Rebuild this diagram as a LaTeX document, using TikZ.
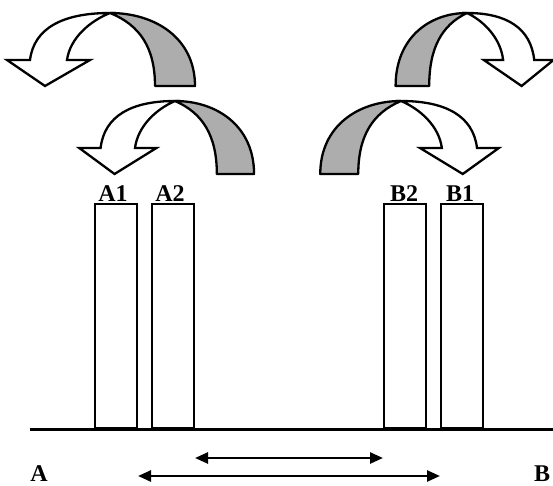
\documentclass[tikz,border=0pt]{standalone}
\usepackage{fontspec}
\setmainfont{Liberation Serif}
\usetikzlibrary{arrows.meta}

\tikzset{
  pics/hoparrow/.style={code={
    % shaded underside of the band
    \filldraw[fill=black!32, line width=2.3pt, line join=round]
      (0,0) .. controls (45,0) and (85,25) .. (85,73) -- (45,73)
      .. controls (45,35) and (30,12) .. (0,0) -- cycle;
    % white band with its head
    \filldraw[fill=white, line width=2.3pt, line join=miter]
      (0,0) .. controls (-47,0) and (-76,15) .. (-80,47) -- (-103,47)
      -- (-65,73) -- (-20,47) -- (-43,47)
      .. controls (-40,25) and (-20,8) .. (0,0) -- cycle;
  }}
}

\begin{document}
\begin{tikzpicture}[x=1pt, y=-1pt,
  bar/.style={draw, line width=2pt, minimum width=42pt, minimum height=224pt, inner sep=0pt, anchor=south},
  lbl/.style={font=\bfseries\fontsize{24}{24}\selectfont, anchor=base, inner sep=0pt},
  dimarrow/.style={{Triangle[length=13pt,width=11pt]}-{Triangle[length=13pt,width=11pt]}, line width=2.5pt}]

\useasboundingbox (0,0) rectangle (553,486);

% the four curved arrows
\pic at (110,13) {hoparrow};
\pic[xscale=0.93] at (175,101) {hoparrow};
\pic[xscale=-0.84] at (467,13) {hoparrow};
\pic[xscale=-0.95] at (401,101) {hoparrow};

% ground
\coordinate (g1) at (30,429);
\coordinate (g2) at (553,429);
\draw[line width=3pt] (g1) -- (g2);

% bars
\node[bar] (A1) at (116,429) {};
\node[bar] (A2) at (173,429) {};
\node[bar] (B2) at (405,429) {};
\node[bar] (B1) at (462,429) {};

\node[lbl] (lA1) at (113,201) {A1};
\node[lbl] (lA2) at (170,201) {A2};
\node[lbl] (lB2) at (404,201) {B2};
\node[lbl] (lB1) at (460,201) {B1};

\node[lbl] (A) at (39,481) {A};
\node[lbl] (B) at (542,481) {B};

% distances
\coordinate (up) at (0,458);
\coordinate (lo) at (0,476);
\draw[dimarrow] (A2.east |- up) -- (B2.west |- up);
\draw[dimarrow] (A1.east |- lo) -- (B1.west |- lo);
\end{tikzpicture}
\end{document}
